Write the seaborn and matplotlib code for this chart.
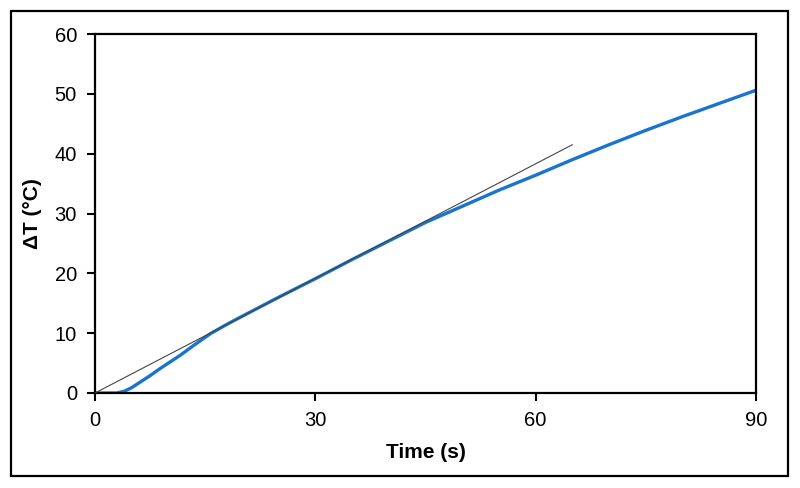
import matplotlib
matplotlib.use("Agg")
import matplotlib.pyplot as plt
from matplotlib.patches import Rectangle
import seaborn as sns
import pandas as pd

# Measured temperature rise (blue curve)
time_s = [0, 3, 4, 5, 6, 7.5, 9, 11.6, 13.6, 15.7, 18, 20, 25, 30, 35, 40, 45,
          50, 55, 58, 60, 65, 70, 75, 80, 85, 90]
delta_t = [0, 0, 0.3, 0.9, 1.7, 2.9, 4.2, 6.3, 8.1, 9.9, 11.5, 12.8, 16.0, 19.1,
           22.3, 25.4, 28.5, 31.2, 33.9, 35.4, 36.4, 39.0, 41.5, 43.9, 46.2,
           48.4, 50.6]

# Linear fit line (thin black)
fit_time = [0, 65]
fit_dt = [0, 41.5]

x_ticks = [0, 30, 60, 90]
y_ticks = [0, 10, 20, 30, 40, 50, 60]

sns.set_theme(style="white")
plt.rcParams["font.family"] = ["Liberation Sans", "DejaVu Sans"]

fig = plt.figure(figsize=(8, 4.88), dpi=100)
ax = fig.add_axes([95 / 800, 95 / 488, (756 - 95) / 800, (393 - 34) / 488])

df = pd.DataFrame({"t": time_s, "dT": delta_t})
fit = pd.DataFrame({"t": fit_time, "dT": fit_dt})

sns.lineplot(data=df, x="t", y="dT", ax=ax, color="#1874cd", linewidth=2.4,
             zorder=2)
sns.lineplot(data=fit, x="t", y="dT", ax=ax, color="#444444", linewidth=0.8,
             zorder=3)

ax.set_xlim(0, 90)
ax.set_ylim(0, 60)
ax.set_xticks(x_ticks)
ax.set_yticks(y_ticks)
ax.tick_params(axis="both", direction="out", length=6, width=1.5,
               color="black", labelsize=14.5, pad=7, labelcolor="black",
               bottom=True, left=True)
for s in ax.spines.values():
    s.set_color("black")
    s.set_linewidth(1.6)
    s.set_visible(True)

ax.set_xlabel("Time (s)", fontsize=15, fontweight="bold", labelpad=9,
              color="black")
ax.set_ylabel("ΔT (°C)", fontsize=15, fontweight="bold", labelpad=9,
              color="black")
ax.grid(False)

# Outer border around the whole figure
fig.patches.append(Rectangle((10.5 / 800, 12.5 / 488), 777.5 / 800, 465 / 488,
                             transform=fig.transFigure, fill=False,
                             edgecolor="black", linewidth=1.6))

fig.savefig("out.png", dpi=100)
